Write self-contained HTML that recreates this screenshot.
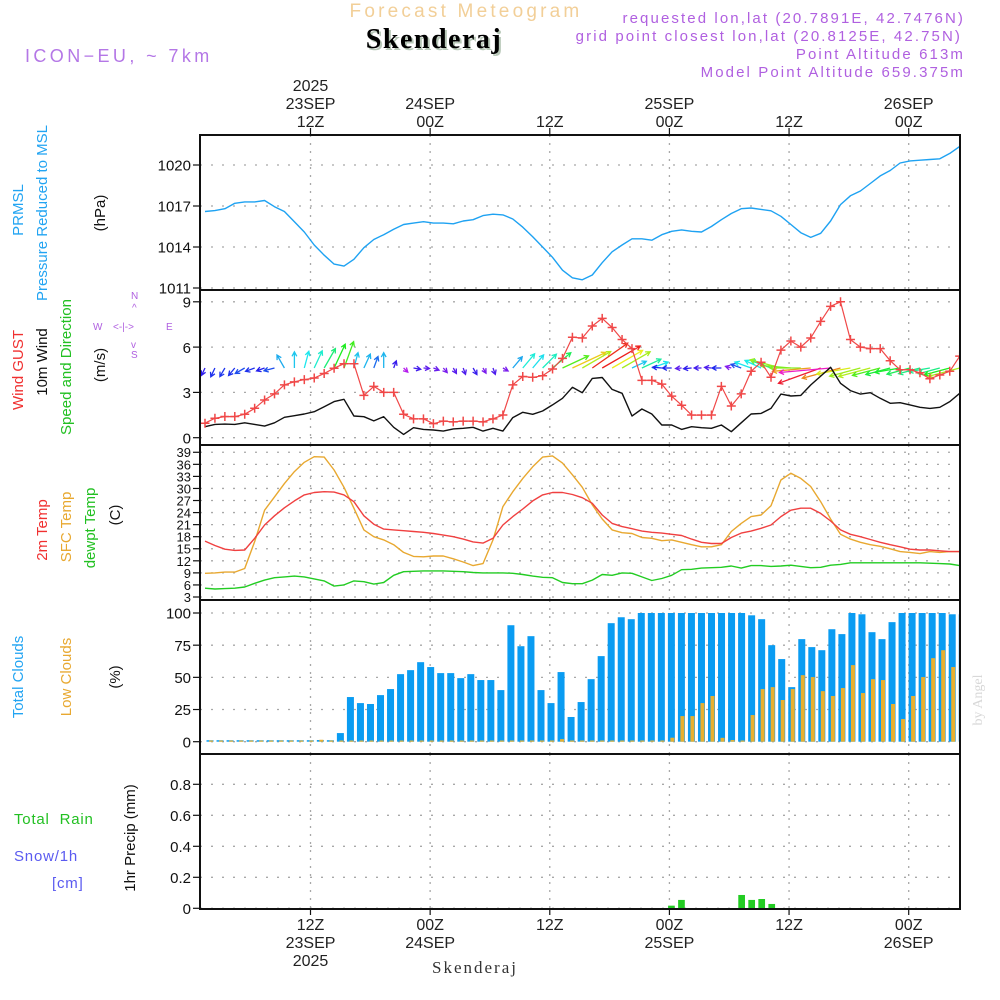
<!DOCTYPE html>
<html><head><meta charset="utf-8">
<style>
html,body{margin:0;padding:0;background:#fff;}
svg{display:block;font-family:"Liberation Sans",sans-serif;}
</style></head>
<body>
<svg id="chart" width="1000" height="1000" viewBox="0 0 1000 1000" xmlns="http://www.w3.org/2000/svg">
<defs><clipPath id="plotclip"><rect x="200" y="135" width="760" height="774"/></clipPath></defs>
<rect x="0" y="0" width="1000" height="1000" fill="#fff"/>
<text x="466" y="17" text-anchor="middle" font-size="19" fill="#f2cf98" letter-spacing="3.2">Forecast Meteogram</text>
<text x="436" y="50" text-anchor="middle" font-size="28" font-weight="bold" font-family="Liberation Serif, serif" fill="#b8c8b8" letter-spacing="1.5">Skenderaj</text>
<text x="434" y="48" text-anchor="middle" font-size="28" font-weight="bold" font-family="Liberation Serif, serif" fill="#000" letter-spacing="1.5">Skenderaj</text>
<text x="25" y="62" font-size="18" fill="#b477e6" letter-spacing="3.4">ICON−EU, ~ 7km</text>
<g font-size="15" fill="#b060e0" text-anchor="end" letter-spacing="2.1">
<text x="965" y="23">requested lon,lat (20.7891E, 42.7476N)</text>
<text x="962" y="41">grid point closest lon,lat (20.8125E, 42.75N)</text>
<text x="965" y="59">Point Altitude 613m</text>
<text x="965" y="77">Model Point Altitude 659.375m</text>
</g>
<g id="grid"></g>
<g id="marks" clip-path="url(#plotclip)"></g>
<g id="axes"></g>
<g id="labels">
<text transform="translate(23,210) rotate(-90)" text-anchor="middle" font-size="15" fill="#22a4f2">PRMSL</text>
<text transform="translate(47,213) rotate(-90)" text-anchor="middle" font-size="15" fill="#22a4f2">Pressure Reduced to MSL</text>
<text transform="translate(105,213) rotate(-90)" text-anchor="middle" font-size="15" fill="#111">(hPa)</text>
<text transform="translate(23,370) rotate(-90)" text-anchor="middle" font-size="15" fill="#f03030">Wind GUST</text>
<text transform="translate(47,362) rotate(-90)" text-anchor="middle" font-size="15" fill="#111">10m Wind</text>
<text transform="translate(71,367) rotate(-90)" text-anchor="middle" font-size="15" fill="#22c022">Speed and Direction</text>
<text transform="translate(105,365) rotate(-90)" text-anchor="middle" font-size="15" fill="#111">(m/s)</text>
<g font-size="10" fill="#b060e0">
<text x="93" y="330">W</text>
<text x="166" y="330">E</text>
<text x="131" y="299">N</text>
<text x="131" y="358">S</text>
<text x="113" y="330">&lt;-|-&gt;</text>
<text x="132" y="311">^</text>
<text x="131" y="348">v</text>
</g>
<text transform="translate(47,530) rotate(-90)" text-anchor="middle" font-size="15" fill="#f03030">2m Temp</text>
<text transform="translate(71,527) rotate(-90)" text-anchor="middle" font-size="15" fill="#e8a830">SFC Temp</text>
<text transform="translate(95,528) rotate(-90)" text-anchor="middle" font-size="15" fill="#22c022">dewpt Temp</text>
<text transform="translate(120,515) rotate(-90)" text-anchor="middle" font-size="15" fill="#111">(C)</text>
<text transform="translate(23,677) rotate(-90)" text-anchor="middle" font-size="15" fill="#22a4f2">Total Clouds</text>
<text transform="translate(71,677) rotate(-90)" text-anchor="middle" font-size="15" fill="#e8a830">Low Clouds</text>
<text transform="translate(120,677) rotate(-90)" text-anchor="middle" font-size="15" fill="#111">(%)</text>
<text x="14" y="824" font-size="15" fill="#22c022" letter-spacing="0.8" xml:space="preserve">Total  Rain</text>
<text x="14" y="861" font-size="15" fill="#5a5af0" letter-spacing="0.8">Snow/1h</text>
<text x="52" y="888" font-size="15" fill="#5a5af0" letter-spacing="0.8">[cm]</text>
<text transform="translate(135,838) rotate(-90)" text-anchor="middle" font-size="15" fill="#111">1hr Precip (mm)</text>
<text transform="translate(982,700) rotate(-90)" text-anchor="middle" font-size="14" font-family="Liberation Serif, serif" fill="#d8d8d8">by Angel</text>
<text x="475" y="973" text-anchor="middle" font-size="17" font-family="Liberation Serif, serif" fill="#333" letter-spacing="2">Skenderaj</text>
</g>
</svg>
<script>
// ---- data (hourly, starting ~01Z 23SEP) ----
const pressure = [1016.6,1016.66,1016.8,1017.2,1017.3,1017.3,1017.4,1016.95,1016.6,1015.85,1015.1,1014.15,1013.4,1012.75,1012.6,1013.1,1013.95,1014.55,1014.9,1015.3,1015.65,1015.75,1015.85,1015.75,1015.75,1015.7,1015.9,1016.0,1016.3,1016.4,1016.35,1016.05,1015.45,1014.75,1014.0,1013.25,1012.3,1011.75,1011.6,1011.95,1012.85,1013.65,1014.15,1014.6,1014.6,1014.5,1014.9,1015.15,1015.25,1015.15,1015.1,1015.5,1016.0,1016.45,1016.8,1016.85,1016.75,1016.65,1016.25,1015.65,1015.05,1014.7,1015.0,1015.9,1017.1,1017.75,1018.1,1018.65,1019.2,1019.6,1020.15,1020.3,1020.35,1020.4,1020.45,1020.85,1021.35];
const windGust = [0.96,1.29,1.4,1.4,1.55,1.95,2.5,2.9,3.5,3.7,3.85,3.95,4.25,4.6,4.9,4.9,2.8,3.4,3.0,3.0,1.55,1.25,1.25,0.93,1.1,1.05,1.1,1.1,1.05,1.25,1.5,3.5,4.05,4.0,4.1,4.55,5.25,6.65,6.6,7.4,7.9,7.3,6.5,5.9,3.8,3.8,3.55,2.75,2.15,1.5,1.5,1.5,3.4,2.1,2.9,4.4,5.0,4.0,5.8,6.4,6.0,6.6,7.7,8.7,9.0,6.5,6.0,5.9,5.9,5.1,4.5,4.5,4.3,3.9,4.15,4.4,5.4];
const wind10m = [0.73,0.88,0.9,0.88,0.99,0.88,0.77,0.99,1.35,1.46,1.57,1.72,2.05,2.39,2.54,1.44,1.39,1.11,1.39,0.69,0.22,0.66,0.55,0.51,0.44,0.58,0.62,0.69,0.44,0.62,0.44,1.33,1.68,1.55,1.77,2.17,2.61,3.34,2.98,3.93,3.99,3.2,2.94,1.44,1.9,1.57,0.84,0.84,0.55,0.73,0.66,0.62,0.84,0.4,0.99,1.57,1.61,1.94,2.89,2.76,2.8,3.49,4.08,4.66,3.6,3.12,2.89,2.98,2.61,2.28,2.32,2.17,2.01,1.94,2.01,2.39,2.94];
const windDir = [205,205,210,220,240,250,250,255,330,0,15,25,30,25,20,15,25,20,0,20,135,100,95,110,140,150,160,150,150,160,120,40,40,40,45,50,65,65,60,55,60,60,60,65,65,70,275,270,265,265,270,275,270,285,290,290,295,290,285,275,270,265,250,265,255,260,255,255,255,255,260,255,255,260,255,255,255];
const temp2m = [16.9,15.8,14.9,14.6,14.7,17.6,20.9,23.2,25.2,26.9,28.4,29.0,29.2,29.1,28.4,26.7,23.2,21.1,19.9,19.7,19.5,19.3,19.1,18.8,18.4,18.0,17.4,16.7,16.4,17.6,20.9,23.0,24.9,26.9,28.4,29.0,29.0,28.5,27.7,26.3,23.4,21.3,20.5,20.0,19.4,19.1,18.9,18.6,18.3,17.4,16.6,16.3,16.3,17.8,18.9,19.4,20.1,20.9,23.0,24.6,25.1,25.1,23.8,21.9,19.7,18.6,18.0,17.3,16.6,16.0,15.5,14.9,14.7,14.7,14.5,14.3,14.3];
const tempSfc = [8.9,9.0,9.2,9.2,10.1,16.8,24.6,27.9,31.2,34.2,36.5,37.9,37.8,34.6,30.3,25.1,19.7,18.0,17.2,16.0,14.1,13.1,13.0,13.2,13.2,12.5,11.7,10.8,11.3,17.2,25.5,29.2,32.5,35.4,37.8,38.1,36.3,33.4,30.3,25.9,22.4,19.7,19.0,18.8,17.8,17.6,17.0,17.2,16.6,16.0,15.5,15.5,16.0,19.3,21.3,23.0,23.4,25.7,32.1,33.8,32.5,30.5,26.7,22.4,18.6,17.4,16.6,16.0,15.6,15.0,14.3,14.1,13.8,14.3,14.1,14.3,14.3];
const dewpoint = [5.2,5.0,5.1,5.2,5.5,6.4,7.2,7.8,8.0,8.2,8.0,7.5,7.0,5.7,6.0,7.0,6.8,6.2,6.6,8.4,9.3,9.4,9.5,9.5,9.5,9.4,9.3,9.1,9.0,9.0,9.0,8.9,8.6,8.2,7.9,7.8,6.6,6.3,6.3,7.2,8.6,8.4,9.0,8.9,8.0,7.1,7.6,8.4,9.8,9.9,10.2,10.3,10.4,10.7,10.2,10.8,10.8,10.6,10.7,10.9,10.6,10.3,10.4,10.9,11.1,11.5,11.5,11.5,11.5,11.5,11.5,11.5,11.5,11.4,11.3,11.2,10.8];
const cloudTotal = [0,0,0,0,0,0,0,0,0,0,0,1.3,0.5,6.7,34.7,30,29.3,36.2,40.9,52.5,55.6,61.8,58,53.3,53.3,49.4,52.5,47.9,47.9,40.1,90.5,74.2,82,40.1,30,54.1,19.2,30.8,48.6,66.5,92.1,96.7,95.2,100,100,100,100,100,100,100,100,100,100,100,98.2,95.2,75,64.2,42.4,79.7,73.5,71.1,87.4,83.6,100,99,85.1,79.7,92.9,100,100,100,100,100,99,99];
const cloudLow = [0,0,0,0,0,0,0,0,0,0,0,1.5,0,0,0,0,0,0,0,0,0,0,0,0,0,0,0,0,0,0,0,0,0,0,0,2,0,0,0,0,0,0,0,0,0,0,3.1,19.9,19.9,30,35.5,3,1.3,0,20.7,40.9,42.4,32.4,40.9,51.7,50.2,39.3,35.5,41.7,59.5,37.8,48.6,47.9,29.3,17.6,35.5,50.2,64.9,71.1,58,69.6];
const precipHours = [46,47,53,54,55,56];
const precipValues = [0.017,0.054,0.086,0.054,0.06,0.028];
const timeTickHours = [12,24,36,48,60,72];
const topTickLabels = [["2025","23SEP","12Z"],["24SEP","00Z"],["12Z"],["25SEP","00Z"],["12Z"],["26SEP","00Z"]];
const bottomTickLabels = [["12Z","23SEP","2025"],["00Z","24SEP"],["12Z"],["00Z","25SEP"],["12Z"],["00Z","26SEP"]];
const pressureTicks = [1011,1014,1017,1020];
const windTicks = [0,3,6,9];
const tempTicks = [3,6,9,12,15,18,21,24,27,30,33,36,39];
const cloudTicks = [0,25,50,75,100];
const precipTicks = [0,0.2,0.4,0.6,0.8];

// ---- scales ----
const X0=200, X1=960;
function xL(k){return 205 + k*9.93;}
function xB(k){return 210 + k*10.03;}
function xT(h){return 310.5 + (h-12)*9.97;}
function yP(v){return 288 - (v-1011)*41/3;}
function yW(v){return 437.7 - v*15.1;}
function yT(v){return 597 - (v-3)*4.02;}
function yC(v){return 741.7 - v*1.287;}
function yR(v){return 908.3 - v*155;}

const NS="http://www.w3.org/2000/svg";
function mk(tag, parent, attrs){const e=document.createElementNS(NS,tag);for(const a in attrs)e.setAttribute(a,attrs[a]);parent.appendChild(e);return e;}
const grid=document.getElementById('grid'), marks=document.getElementById('marks'), axes=document.getElementById('axes');

const panels=[
 {name:'pressure',top:135,bot:290,ticks:pressureTicks,y:yP,fmt:v=>String(v),fs:15},
 {name:'wind',top:290,bot:445,ticks:windTicks,y:yW,fmt:v=>String(v),fs:15},
 {name:'temperature',top:445,bot:600,ticks:tempTicks,y:yT,fmt:v=>String(v),fs:13},
 {name:'clouds',top:600,bot:754,ticks:cloudTicks,y:yC,fmt:v=>String(v),fs:15},
 {name:'precip',top:754,bot:909,ticks:precipTicks,y:yR,fmt:v=>v===0?'0':v.toFixed(1),fs:15}
];
panels.forEach(p=>{
  timeTickHours.forEach(h=>{
    const l=mk('line',grid,{x1:xT(h),x2:xT(h),y1:p.top,y2:p.bot,stroke:'#a8a8a8','stroke-width':1.3,'stroke-dasharray':'2,6'});
    
    
  });
  p.ticks.forEach(v=>{
    const y=p.y(v);
    const g=mk('line',grid,{x1:X0,x2:X1,y1:y,y2:y,stroke:'#a8a8a8','stroke-width':1.3,'stroke-dasharray':'2,9'});
    
    
    const t=mk('line',axes,{x1:193,x2:X0,y1:y,y2:y,stroke:'#111','stroke-width':1.2});
    
    
    const lb=mk('text',axes,{x:191,y:y+p.fs*0.38,'text-anchor':'end','font-size':p.fs,fill:'#111'});
    lb.textContent=p.fmt(v);
    
    
  });
  const fr=mk('rect',axes,{x:X0,y:p.top,width:X1-X0,height:p.bot-p.top,fill:'none',stroke:'#111','stroke-width':2});
  
  
});
timeTickHours.forEach((h,i)=>{
  const x=xT(h);
  const tt=mk('line',axes,{x1:x,x2:x,y1:128,y2:135,stroke:'#111','stroke-width':1.2});
  
  
  const tb=mk('line',axes,{x1:x,x2:x,y1:909,y2:915,stroke:'#111','stroke-width':1.2});
  
  
  const top=topTickLabels[i];
  top.forEach((s,j)=>{
    const t=mk('text',axes,{x:x,y:127-(top.length-1-j)*18,'text-anchor':'middle','font-size':16,fill:'#222'});
    t.textContent=s;
    
    
  });
  bottomTickLabels[i].forEach((s,j)=>{
    const t=mk('text',axes,{x:x,y:930+j*18,'text-anchor':'middle','font-size':16,fill:'#222'});
    t.textContent=s;
    
    
  });
});
function line(arr, yf, color, name, w){
  const d=arr.map((v,k)=>(k?'L':'M')+xL(k).toFixed(1)+','+yf(v).toFixed(1)).join('');
  const p=mk('path',marks,{d:d,fill:'none',stroke:color,'stroke-width':w||1.4,'stroke-linejoin':'round'});
  
  
}
line(pressure,yP,'#1ea2f2','pressure-line');
wind10m.forEach((s,k)=>{
  const dir=windDir[k]*Math.PI/180;
  const len=Math.max(6,s*11);
  const x0=xL(k), y0=368;
  const x1=x0+Math.sin(dir)*len, y1=y0-Math.cos(dir)*len;
  let hue=300-s*75; if(hue<0) hue+=360;
  const col='hsl('+hue.toFixed(0)+',85%,52%)';
  const a=Math.atan2(y1-y0,x1-x0), h=5;
  const d='M'+x0.toFixed(1)+','+y0.toFixed(1)+'L'+x1.toFixed(1)+','+y1.toFixed(1)+
    'M'+(x1-h*Math.cos(a-0.5)).toFixed(1)+','+(y1-h*Math.sin(a-0.5)).toFixed(1)+'L'+x1.toFixed(1)+','+y1.toFixed(1)+
    'L'+(x1-h*Math.cos(a+0.5)).toFixed(1)+','+(y1-h*Math.sin(a+0.5)).toFixed(1);
  const p=mk('path',marks,{d:d,fill:'none',stroke:col,'stroke-width':1.3});
  
  
});
line(wind10m,yW,'#111','wind-10m-line');
line(windGust,yW,'#f04848','wind-gust-line',1.2);
windGust.forEach((v,k)=>{
  const x=xL(k), y=yW(v);
  const m=mk('path',marks,{d:'M'+(x-4.5)+','+y+'h9M'+x+','+(y-4.5)+'v9',stroke:'#f04848','stroke-width':1.5});
  
  
});
line(dewpoint,yT,'#22cc22','dewpoint-line');
line(tempSfc,yT,'#e8a830','sfc-temp-line');
line(temp2m,yT,'#f04040','temp-2m-line');
cloudTotal.forEach((v,k)=>{
  const h=Math.max(1.5,v*1.287);
  const r=mk('rect',marks,{x:xB(k)-3.5,y:yC(0)-h,width:7,height:h,fill:'#0a9cf2'});
  
  
});
cloudLow.forEach((v,k)=>{
  const h=Math.max(1.2,v*1.287);
  const r=mk('rect',marks,{x:xB(k)-1,y:yC(0)-h,width:4,height:h,fill:'#e8b030'});
  
  
});
precipHours.forEach((k,i)=>{
  const v=precipValues[i];
  const r=mk('rect',marks,{x:xB(k)-3.3,y:yR(v),width:6.7,height:v*155,fill:'#22cc22'});
  
  
});
</script>
</body></html>
